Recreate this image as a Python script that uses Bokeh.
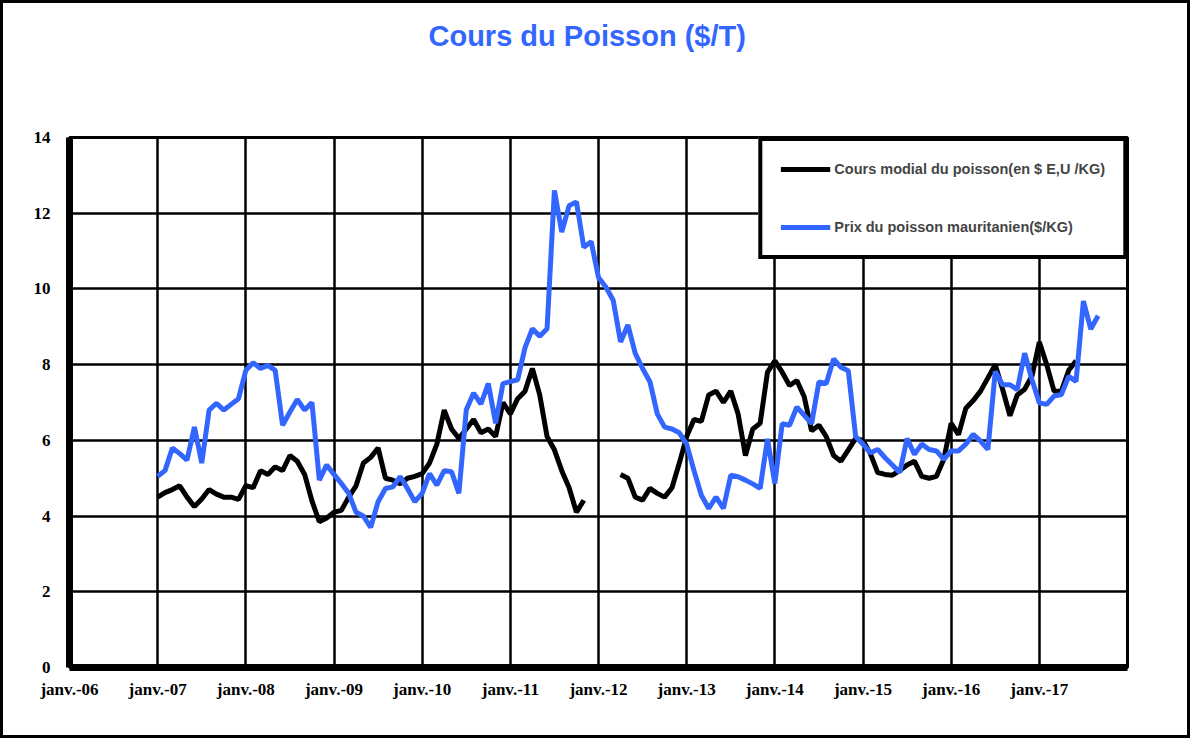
import numpy as np
from bokeh.plotting import figure
from bokeh.models import FixedTicker, ColumnDataSource, Title
from bokeh.embed import file_html
from bokeh.resources import INLINE

# ---- data (monthly, starting janv. 2007) ----
tick_labels = ["janv.-06", "janv.-07", "janv.-08", "janv.-09", "janv.-10", "janv.-11",
               "janv.-12", "janv.-13", "janv.-14", "janv.-15", "janv.-16", "janv.-17"]

cours_modial = [
    4.5, 4.62, 4.7, 4.8, 4.5, 4.25, 4.45, 4.7, 4.58, 4.5, 4.5, 4.44,          # 2007
    4.8, 4.75, 5.2, 5.1, 5.3, 5.2, 5.6, 5.45, 5.1, 4.4, 3.85, 3.95,           # 2008
    4.1, 4.15, 4.5, 4.8, 5.4, 5.55, 5.8, 5.0, 4.95, 4.85, 5.0, 5.05,          # 2009
    5.12, 5.4, 5.9, 6.8, 6.3, 6.05, 6.3, 6.55, 6.2, 6.3, 6.1, 7.0,            # 2010
    6.7, 7.1, 7.3, 7.9, 7.2, 6.1, 5.75, 5.2, 4.75, 4.1, 4.42, None,           # 2011
    None, None, None, 5.1, 5.0, 4.5, 4.42, 4.73, 4.6, 4.5, 4.75, 5.4,         # 2012
    6.1, 6.55, 6.5, 7.2, 7.3, 7.0, 7.3, 6.7, 5.6, 6.3, 6.45, 7.8,             # 2013
    8.1, 7.8, 7.45, 7.58, 7.15, 6.25, 6.4, 6.1, 5.6, 5.45, 5.75, 6.05,        # 2014
    6.0, 5.65, 5.15, 5.1, 5.08, 5.2, 5.35, 5.45, 5.05, 5.0, 5.05, 5.5,        # 2015
    6.45, 6.15, 6.85, 7.05, 7.3, 7.65, 8.0, 7.35, 6.65, 7.2, 7.35, 7.7,       # 2016
    8.6, 8.0, 7.3, 7.3, 7.85, 8.1, None, None, None,                          # 2017
]

prix_mauritanien = [
    5.05, 5.2, 5.8, 5.65, 5.48, 6.35, 5.4, 6.8, 6.98, 6.8, 6.95, 7.1,         # 2007
    7.85, 8.05, 7.9, 7.98, 7.85, 6.4, 6.75, 7.08, 6.8, 7.0, 4.95, 5.35,       # 2008
    5.1, 4.86, 4.6, 4.1, 4.0, 3.7, 4.38, 4.73, 4.77, 5.04, 4.73, 4.38,        # 2009
    4.6, 5.12, 4.82, 5.2, 5.17, 4.6, 6.8, 7.25, 6.96, 7.5, 6.45, 7.5,         # 2010
    7.55, 7.6, 8.45, 8.95, 8.75, 8.95, 12.6, 11.5, 12.2, 12.3, 11.1, 11.25,   # 2011
    10.3, 10.05, 9.7, 8.6, 9.05, 8.3, 7.9, 7.55, 6.7, 6.35, 6.3, 6.2,         # 2012
    5.9, 5.2, 4.55, 4.2, 4.5, 4.2, 5.08, 5.04, 4.95, 4.85, 4.73, 6.04,        # 2013
    4.86, 6.44, 6.4, 6.88, 6.66, 6.44, 7.54, 7.5, 8.15, 7.93, 7.84, 6.1,      # 2014
    5.9, 5.67, 5.76, 5.54, 5.35, 5.15, 6.05, 5.63, 5.9, 5.76, 5.72, 5.5,      # 2015
    5.72, 5.72, 5.9, 6.16, 5.98, 5.76, 7.82, 7.47, 7.47, 7.34, 8.3, 7.6,      # 2016
    6.99, 6.95, 7.17, 7.21, 7.69, 7.56, 9.68, 8.94, 9.29,                     # 2017
]

title_text = "Cours du Poisson ($/T)"
legend_black = "Cours modial du poisson(en $ E,U /KG)"
legend_blue = "Prix du poisson mauritanien($/KG)"

# months since janv. 2006
months = [12 + i for i in range(len(prix_mauritanien))]
tick_pos = [12 * i for i in range(len(tick_labels))]

def arr(v):
    return np.array([np.nan if a is None else a for a in v], dtype=float)

src = ColumnDataSource(dict(x=months, black=arr(cours_modial), blue=arr(prix_mauritanien)))

BLUE = "#3366FF"
W, H = 1190, 738   # includes a 3px CSS border on each side

p = figure(width=W, height=H, output_backend="svg", toolbar_location=None,
           x_range=(0, 144), y_range=(0, 14),
           min_border_left=66, min_border_right=66, min_border_top=134, min_border_bottom=74)

p.line("x", "black", source=src, line_color="black", line_width=5,
       legend_label=legend_black)
p.line("x", "blue", source=src, line_color=BLUE, line_width=5,
       legend_label=legend_blue)

# spacer (closest to the frame) then the real title
p.add_layout(Title(text=" ", text_font_size="1px", standoff=78), "above")
p.add_layout(Title(text=title_text, align="left", text_color=BLUE,
                   text_font="Liberation Sans", text_font_style="bold",
                   text_font_size="29px", standoff=10, offset=359), "above")

# axes
p.xaxis.ticker = FixedTicker(ticks=tick_pos)
p.xaxis.major_label_overrides = {t: l for t, l in zip(tick_pos, tick_labels)}
p.yaxis.ticker = FixedTicker(ticks=list(range(0, 15, 2)))
for ax in (p.xaxis, p.yaxis):
    ax.axis_line_width = 7
    ax.axis_line_color = "black"
    ax.major_tick_line_color = None
    ax.minor_tick_line_color = None
    ax.major_label_text_font = "Liberation Serif"
    ax.major_label_text_font_style = "bold"
    ax.major_label_text_font_size = "17px"
    ax.major_label_text_color = "black"
p.xaxis.major_label_standoff = 6
p.yaxis.major_label_standoff = 13

p.xgrid.grid_line_color = "black"
p.xgrid.grid_line_width = 2.5
p.xgrid.grid_line_alpha = 1
p.ygrid.grid_line_color = "black"
p.ygrid.grid_line_width = 2.5
p.ygrid.grid_line_alpha = 1

p.outline_line_color = "black"
p.outline_line_width = 3
p.outline_line_alpha = 1

# legend
lg = p.legend[0]
lg.location = "top_right"
lg.margin = 0
lg.padding = 18
lg.spacing = 38
lg.glyph_width = 50
lg.glyph_height = 20
lg.label_height = 20
lg.label_standoff = 4
lg.label_text_font = "Liberation Sans"
lg.label_text_font_style = "bold"
lg.label_text_font_size = "14.5px"
lg.border_line_color = "black"
lg.border_line_width = 4
lg.border_line_alpha = 1
lg.background_fill_color = "white"
lg.background_fill_alpha = 1

p.background_fill_color = "white"
p.border_fill_color = "white"
p.styles = {"border": "3px solid black"}

open("out.html", "w").write(file_html(p, INLINE))
